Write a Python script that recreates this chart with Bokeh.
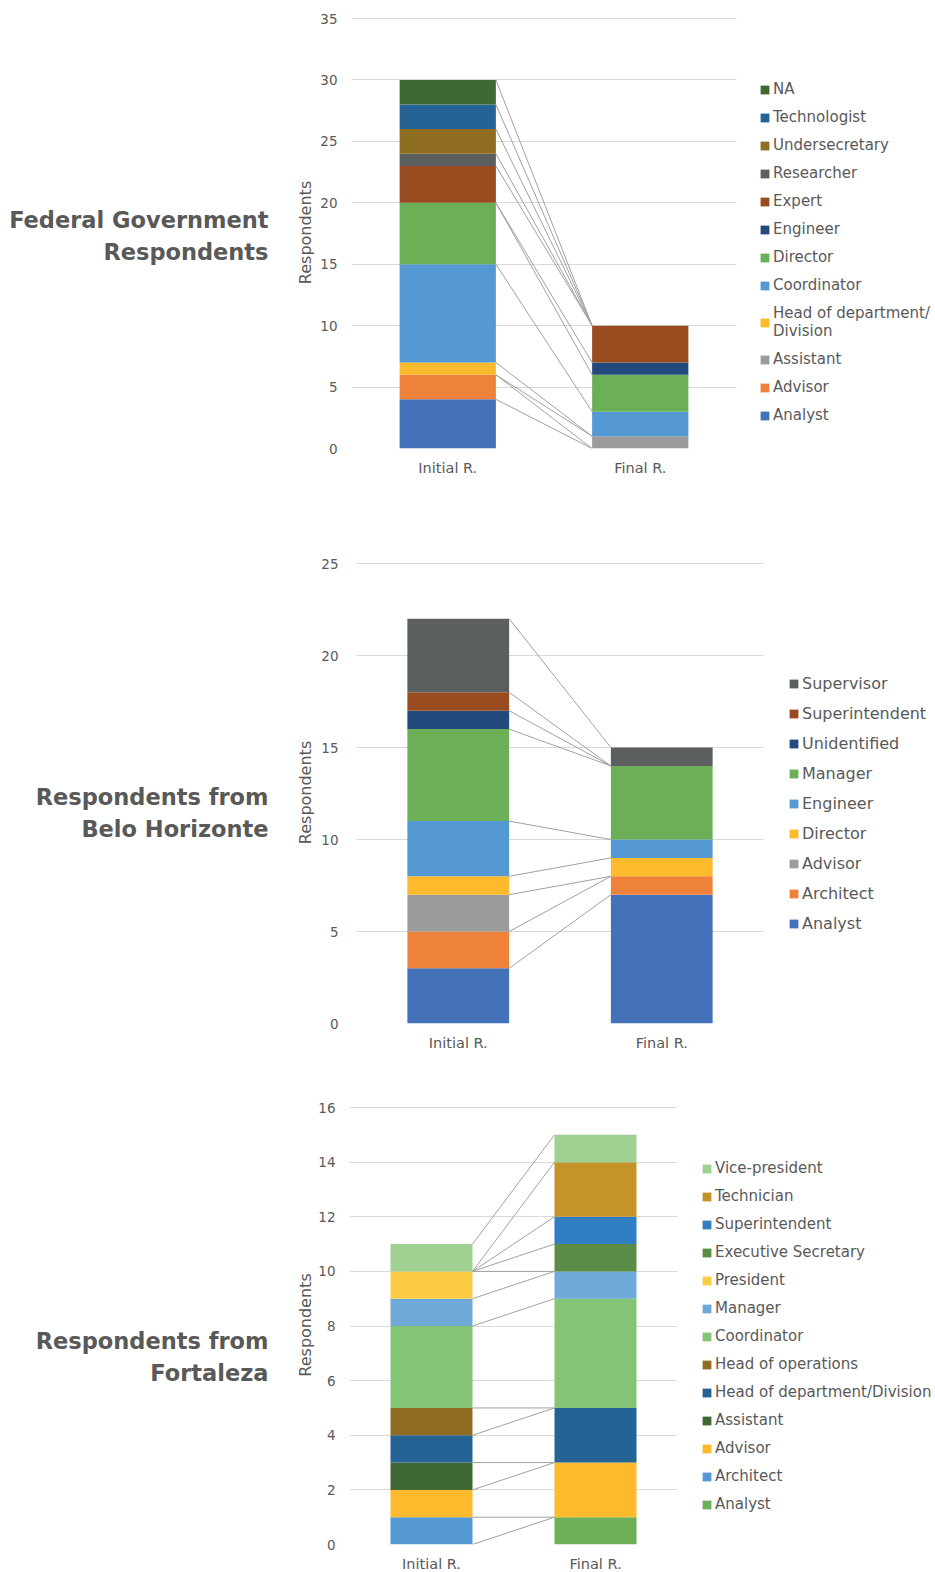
from bokeh.plotting import figure
from bokeh.models import (ColumnDataSource, FactorRange, Range1d, Legend, LegendItem,
                          Label, FixedTicker)
from bokeh.layouts import column, row
from bokeh.embed import file_html
from bokeh.resources import INLINE
import numpy as np

rounds = ["Initial R.", "Final R."]

# ---------------- Panel 1: Federal Government ----------------
fed_title = ["Federal Government", "Respondents"]
fed_roles = ["Analyst", "Advisor", "Assistant", "Head of department/\nDivision", "Coordinator",
             "Director", "Engineer", "Expert", "Researcher", "Undersecretary",
             "Technologist", "NA"]
fed_initial = [4, 2, 0, 1, 8, 5, 0, 3, 1, 2, 2, 2]
fed_final = [0, 0, 1, 0, 2, 3, 1, 3, 0, 0, 0, 0]
fed_colors = ["#4472B9", "#EE823B", "#9A9C9C", "#FDBA2C", "#5499D3", "#6BAF56",
              "#224A7D", "#9A4C21", "#5C5F60", "#8F6E23", "#256394", "#406832"]
fed_ticks = [0, 5, 10, 15, 20, 25, 30, 35]

# ---------------- Panel 2: Belo Horizonte ----------------
bh_title = ["Respondents from", "Belo Horizonte"]
bh_roles = ["Analyst", "Architect", "Advisor", "Director", "Engineer", "Manager",
            "Unidentified", "Superintendent", "Supervisor"]
bh_initial = [3, 2, 2, 1, 3, 5, 1, 1, 4]
bh_final = [7, 1, 0, 1, 1, 4, 0, 0, 1]
bh_colors = ["#4472B9", "#EE823B", "#9A9C9C", "#FDBA2C", "#5499D3", "#6BAF56",
             "#224A7D", "#9A4C21", "#5C5F60"]
bh_ticks = [0, 5, 10, 15, 20, 25]

# ---------------- Panel 3: Fortaleza ----------------
fo_title = ["Respondents from", "Fortaleza"]
fo_roles = ["Analyst", "Architect", "Advisor", "Assistant", "Head of department/Division",
            "Head of operations", "Coordinator", "Manager", "President",
            "Executive Secretary", "Superintendent", "Technician", "Vice-president"]
fo_initial = [0, 1, 1, 1, 1, 1, 3, 1, 1, 0, 0, 0, 1]
fo_final = [1, 0, 2, 0, 2, 0, 4, 1, 0, 1, 1, 2, 1]
fo_colors = ["#6BAF56", "#5499D3", "#FDBA2C", "#406832", "#256394", "#8F6E23",
             "#84C475", "#70AAD8", "#FECB45", "#5B8C45", "#317EC2", "#C4942A", "#9FD193"]
fo_ticks = [0, 2, 4, 6, 8, 10, 12, 14, 16]

FONT = "DejaVu Sans"
TXT = "#595959"
BAR_W = 0.5
TW = 285  # width of the title strip


def make_panel(title, baselines, roles, initial, final, colors, ticks, geom):
    (left, top, fh, bottom, fw, leg_x, leg_y, leg_fs, leg_sp,
     tick_so, lab_so) = geom
    ymax = ticks[-1]
    pad = 2  # extend range by 2px so the top grid line is drawn fully
    y_end = ymax * (fh + pad) / fh

    # ---- title strip (frame aligned with chart frame; y in page pixels) ----
    t = figure(frame_width=TW, frame_height=fh + pad,
               x_range=Range1d(0, TW), y_range=Range1d(top + fh, top - pad),
               min_border_left=0, min_border_right=0,
               min_border_top=top - pad, min_border_bottom=bottom,
               output_backend="svg", toolbar_location=None)
    t.axis.visible = False
    t.grid.visible = False
    t.outline_line_color = None
    for line, yb in zip(title, baselines):
        t.add_layout(Label(x=268, y=yb, text=line, text_align="right",
                           text_baseline="middle", text_font=FONT,
                           text_font_style="bold", text_font_size="22.5px",
                           text_color=TXT))

    # ---- chart ----
    right = 935 - left - fw
    p = figure(x_range=FactorRange(factors=rounds), y_range=Range1d(0, y_end),
               frame_width=fw, frame_height=fh + pad,
               min_border_left=left - TW, min_border_right=right,
               min_border_top=top - pad, min_border_bottom=bottom,
               output_backend="svg", toolbar_location=None)
    p.outline_line_color = None

    keys = ["s%d" % i for i in range(len(roles))]
    data = {"round": rounds}
    for k, a, b in zip(keys, initial, final):
        data[k] = [a, b]
    src = ColumnDataSource(data)
    rends = p.vbar_stack(keys, x="round", width=BAR_W, fill_color=colors,
                         line_color=None, source=src)

    # series lines between stacked tops
    top_i = np.cumsum(initial)
    top_f = np.cumsum(final)
    n = len(roles)
    lsrc = ColumnDataSource(dict(x0=[0.5 + BAR_W / 2] * n, y0=list(top_i),
                                 x1=[1.5 - BAR_W / 2] * n, y1=list(top_f)))
    p.segment(x0="x0", y0="y0", x1="x1", y1="y1", source=lsrc,
              line_color="#A0A0A0", line_width=1)

    # axes
    p.xgrid.grid_line_color = None
    p.ygrid.grid_line_color = "#D9D9D9"
    p.ygrid.grid_line_width = 1
    p.yaxis.ticker = FixedTicker(ticks=ticks)
    p.yaxis.axis_label = "Respondents"
    p.yaxis.axis_label_text_font = FONT
    p.yaxis.axis_label_text_font_style = "normal"
    p.yaxis.axis_label_text_font_size = "16px"
    p.yaxis.axis_label_text_color = TXT
    p.yaxis.axis_label_standoff = lab_so
    for ax in (p.xaxis, p.yaxis):
        ax.axis_line_color = None
        ax.major_tick_line_color = None
        ax.minor_tick_line_color = None
        ax.major_tick_out = 0
        ax.major_tick_in = 0
        ax.minor_tick_out = 0
        ax.minor_tick_in = 0
        ax.major_label_text_font = FONT
        ax.major_label_text_color = TXT
    p.yaxis.major_label_text_font_size = "13.5px"
    p.yaxis.major_label_standoff = tick_so
    p.xaxis.major_label_text_font_size = "14.5px"
    p.xaxis.major_label_standoff = 11

    # legend (top series first), placed right of the frame
    items = [LegendItem(label=roles[i], renderers=[rends[i]]) for i in reversed(range(n))]
    leg = Legend(items=items, location=(leg_x, leg_y), orientation="vertical",
                 border_line_color=None, background_fill_alpha=0,
                 padding=0, margin=0, glyph_width=11, glyph_height=11,
                 label_standoff=3, spacing=leg_sp, label_height=18,
                 label_text_font=FONT, label_text_font_size=leg_fs,
                 label_text_color=TXT, label_text_line_height=1.15)
    p.add_layout(leg, "right")
    return row(t, p, spacing=0)


# figure rows: 0-522, 522-1078, 1078-1572
p1 = make_panel(fed_title, [219.5, 251.5], fed_roles, fed_initial, fed_final, fed_colors,
                fed_ticks, (351, 18, 430, 74, 385, 23, 24, "15px", 10, 14, 2))
p2 = make_panel(bh_title, [274, 306], bh_roles, bh_initial, bh_final, bh_colors,
                bh_ticks, (356, 41, 460, 55, 407, 25, 90, "16px", 11, 18, 3))
p3 = make_panel(fo_title, [262, 294], fo_roles, fo_initial, fo_final, fo_colors,
                fo_ticks, (349, 29, 437, 28, 328, 24, 31, "15px", 10, 14, 0))

layout = column(p1, p2, p3, spacing=0)
open("out.html", "w").write(file_html(layout, INLINE))
